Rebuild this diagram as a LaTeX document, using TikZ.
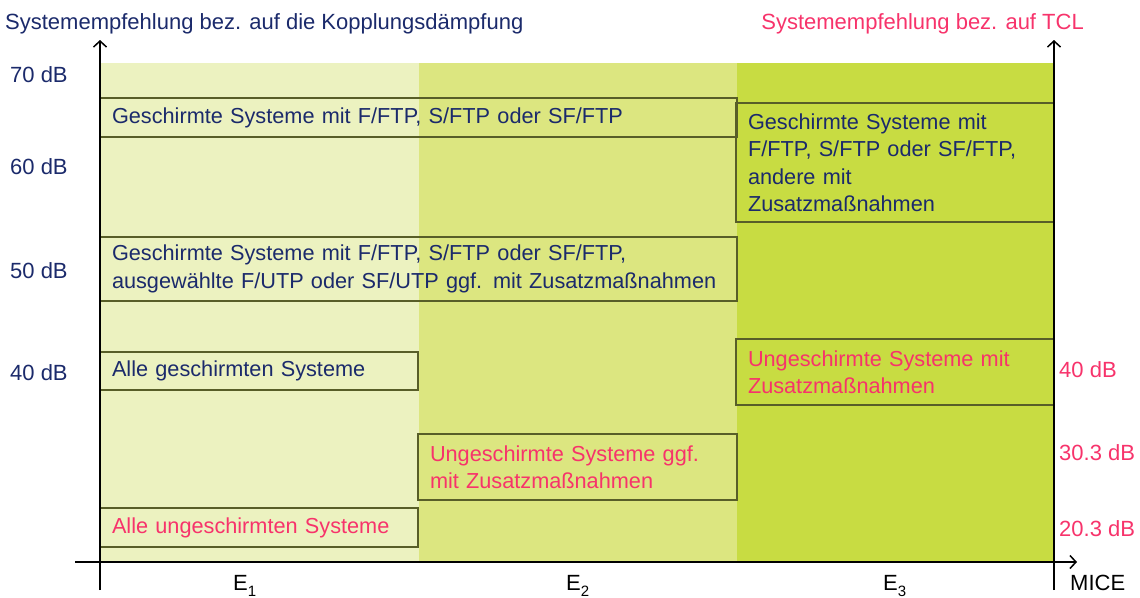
\documentclass[tikz,border=0pt]{standalone}
\usepackage{fontspec}
\setmainfont{Liberation Sans}
\usetikzlibrary{arrows.meta,positioning}

\definecolor{navy}{RGB}{27,42,107}
\definecolor{tclpink}{RGB}{247,51,107}
\definecolor{bandA}{RGB}{236,242,192}
\definecolor{bandB}{RGB}{220,230,128}
\definecolor{bandC}{RGB}{200,220,66}
\definecolor{boxline}{RGB}{88,94,40}

\tikzset{
  recbox/.style={draw=boxline, line width=1.5pt, anchor=north west,
    outer sep=0pt, inner xsep=12pt, inner ysep=0pt, align=left,
    font=\fontsize{21.7}{27.5}\selectfont},
  dblabel/.style={anchor=base west},
  axis/.style={line width=1.5pt, -{Straight Barb[length=6pt,width=13pt]}},
}

\begin{document}
\begin{tikzpicture}[x=1pt,y=-1pt, every node/.style={inner sep=0pt,font=\fontsize{22}{27.5}\selectfont}]
          \useasboundingbox (0,0) rectangle (1140,597);
          \coordinate (p1) at (100,590);
          \coordinate (p2) at (100,40);
          \coordinate (p3) at (1054,590);
          \coordinate (p4) at (1054,40);
          \coordinate (p5) at (75,562);
          \coordinate (p6) at (1077,562);
          \coordinate (p7) at (100,63);
          \coordinate (p8) at (419,562);
          \coordinate (p9) at (419,63);
          \coordinate (p10) at (737,562);
          \coordinate (p11) at (737,63);
          \coordinate (p12) at (1054,562);
          % bands E1, E2, E3
          \fill[bandA] (p7) rectangle (p8);
          \fill[bandB] (p9) rectangle (p10);
          \fill[bandC] (p11) rectangle (p12);
          % boxes
          \node[recbox,text width=613pt,minimum height=39pt,text=navy] (b1) at (100,98)
               {Geschirmte Systeme mit F/FTP, S/FTP oder SF/FTP};
          \node[recbox,text width=294pt,minimum height=119pt,text=navy] (b2) at (736,103)
               {Geschirmte Systeme mit\\F/FTP, S/FTP oder SF/FTP,\\andere mit\\Zusatzmaßnahmen};
          \node[recbox,text width=613pt,minimum height=64pt,text=navy] (b3) at (100,237)
               {Geschirmte Systeme mit F/FTP, S/FTP oder SF/FTP,\\ausgewählte F/UTP oder SF/UTP ggf. mit Zusatzmaßnahmen};
          \node[recbox,text width=294pt,minimum height=38pt,text=navy] (b4) at (100,352)
               {Alle geschirmten Systeme};
          \node[recbox,text width=294pt,minimum height=66pt,text=tclpink] (b5) at (736,339)
               {Ungeschirmte Systeme mit\\Zusatzmaßnahmen};
          \node[recbox,text width=295pt,minimum height=66pt,text=tclpink] (b6) at (418,434)
               {Ungeschirmte Systeme ggf.\\mit Zusatzmaßnahmen};
          \node[recbox,text width=294pt,minimum height=39pt,text=tclpink] (b7) at (100,508)
               {Alle ungeschirmten Systeme};
          % axes
          \draw[axis] (p1) -- (p2);
          \draw[axis] (p3) -- (p4);
          \draw[axis] (p5) -- (p6);
          % titles
          \node[anchor=base west,text=navy] (t1) at (5,29)
               {Systemempfehlung bez. auf die Kopplungsdämpfung};
          \node[anchor=base east,text=tclpink] (t2) at (1084,29)
               {Systemempfehlung bez. auf TCL};
          % dB scales
          \node[dblabel,text=navy] (l70) at (10,82) {70 dB};
          \node[dblabel,text=navy] (l60) at (10,174) {60 dB};
          \node[dblabel,text=navy] (l50) at (10,278) {50 dB};
          \node[dblabel,text=navy] (l40) at (10,380) {40 dB};
          \node[dblabel,text=tclpink] (r40) at (1059,377) {40 dB};
          \node[dblabel,text=tclpink] (r30) at (1059,460) {30.3 dB};
          \node[dblabel,text=tclpink] (r20) at (1059,536) {20.3 dB};
          % classes
          \node[anchor=base west] (e1) at (233,590) {E\raisebox{-6pt}{\fontsize{15}{15}\selectfont 1}};
          \node[anchor=base west] (e2) at (566,590) {E\raisebox{-6pt}{\fontsize{15}{15}\selectfont 2}};
          \node[anchor=base west] (e3) at (883,590) {E\raisebox{-6pt}{\fontsize{15}{15}\selectfont 3}};
          \node[anchor=base west] (mice) at (1070,590) {MICE};
\end{tikzpicture}
\end{document}
